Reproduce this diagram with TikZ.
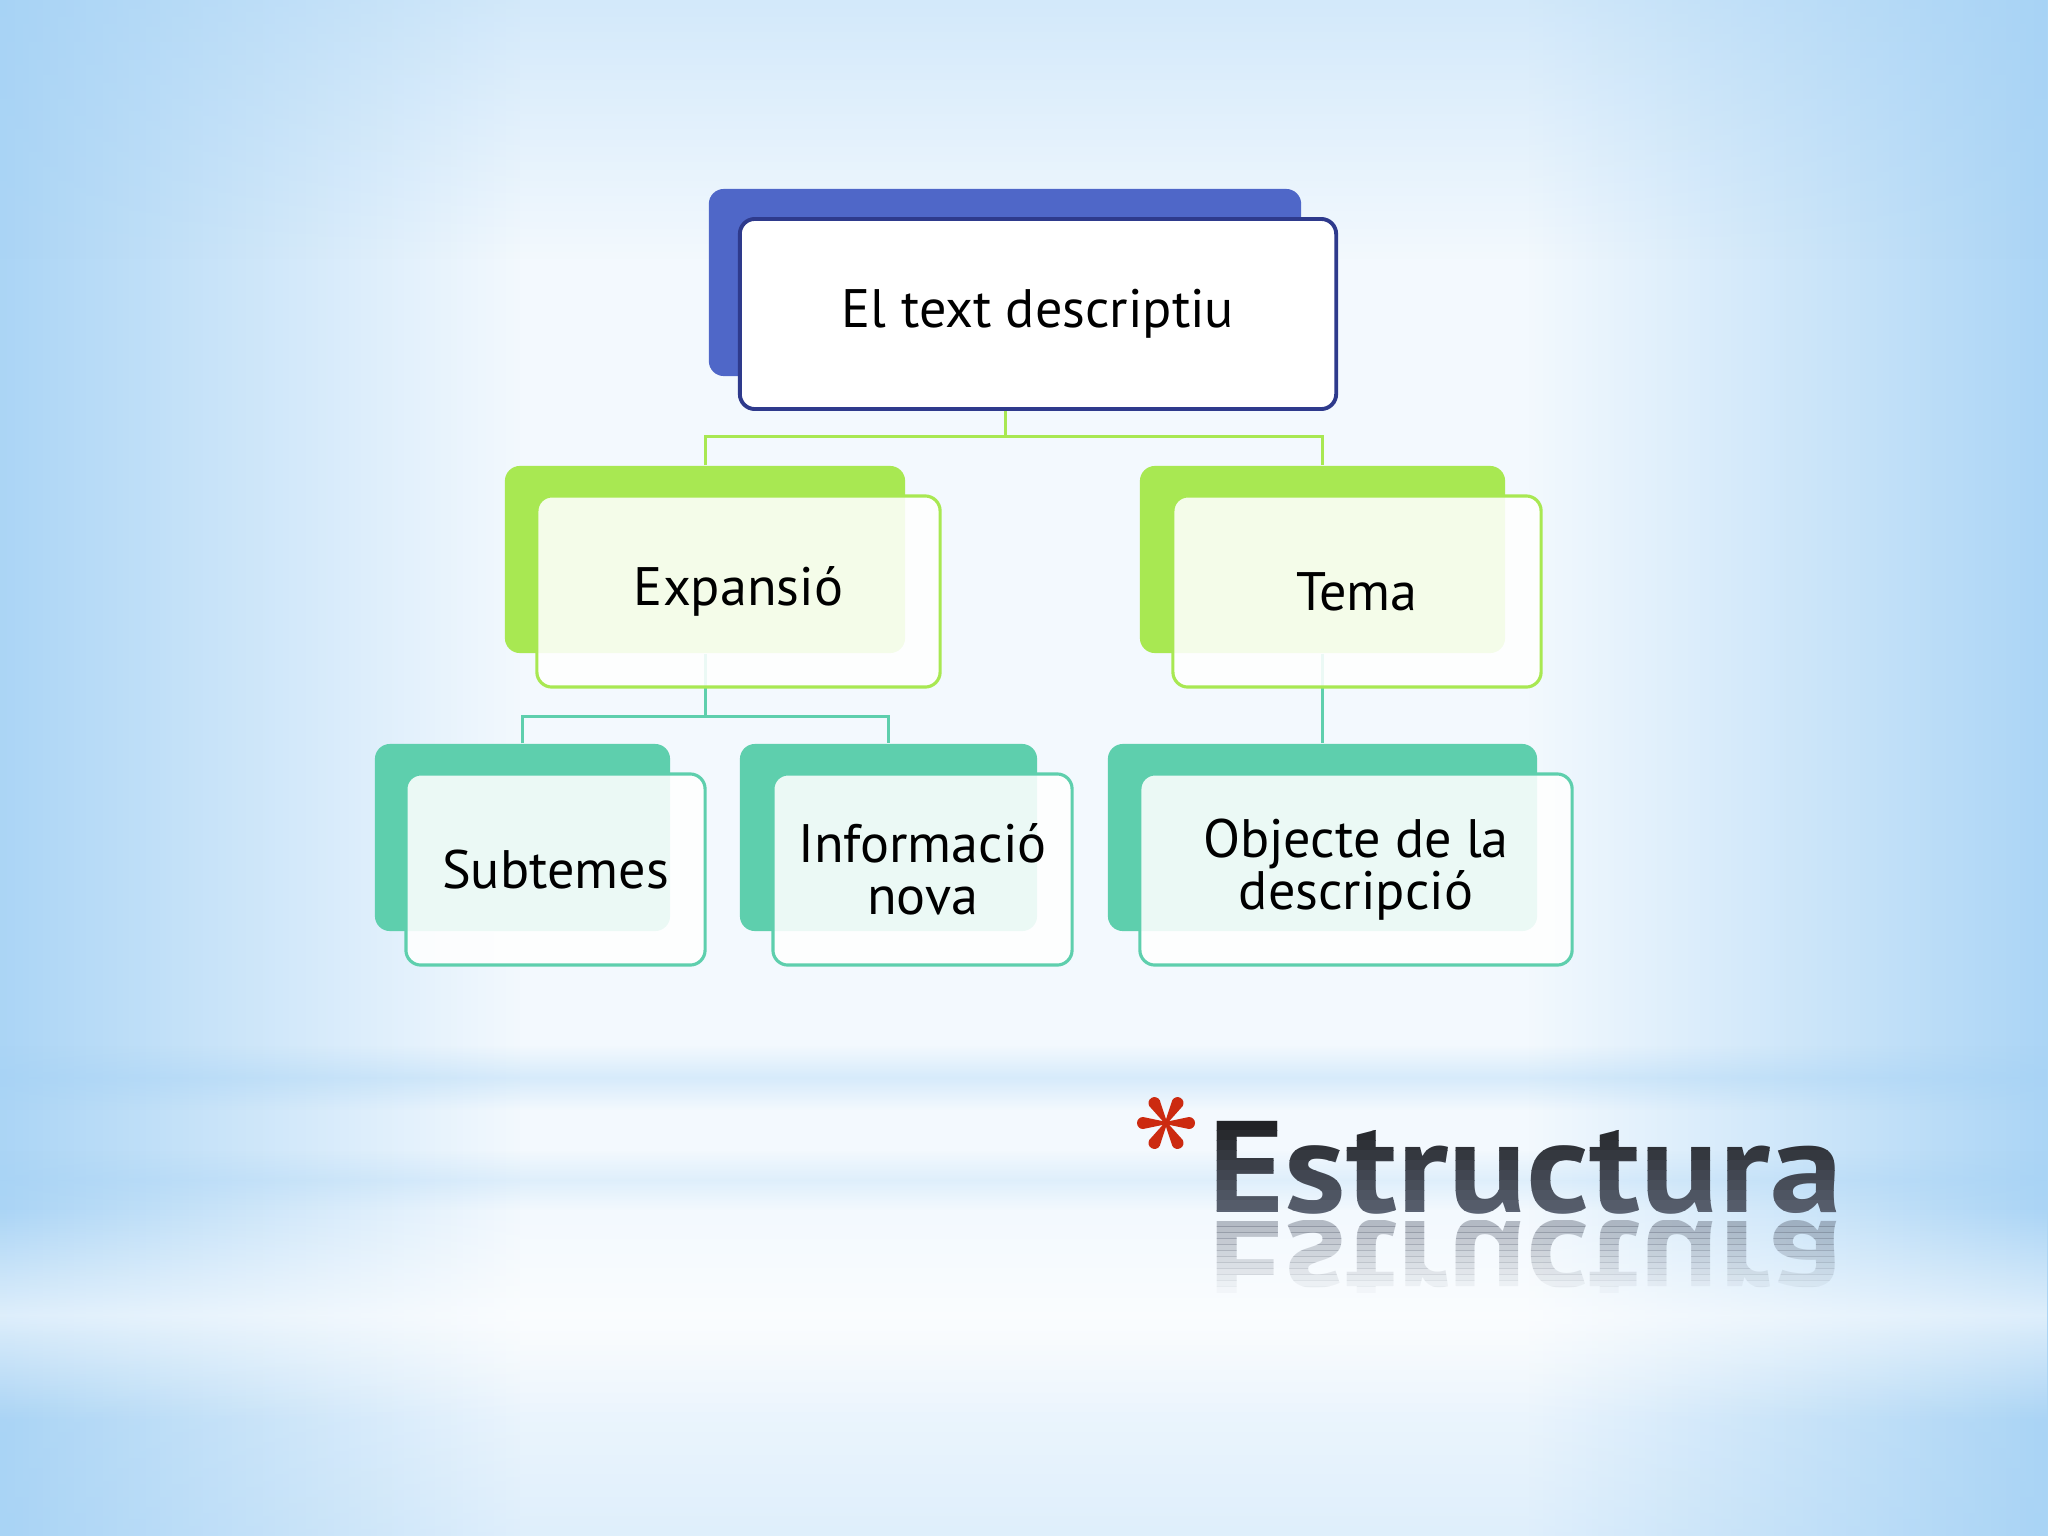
\documentclass[tikz,border=0pt]{standalone}
\usepackage{fontspec}
\setmainfont{PT Sans}
\usetikzlibrary{fadings}

\definecolor{bgout}{HTML}{A3D1F5}
\definecolor{bgin}{HTML}{F3F9FE}
\definecolor{topback}{HTML}{4F67C8}
\definecolor{topline}{HTML}{2E3A8C}
\definecolor{midback}{HTML}{A8E852}
\definecolor{lowback}{HTML}{5ECFAD}
\definecolor{titledark}{HTML}{141414}
\definecolor{titlelight}{HTML}{5C6474}
\definecolor{starred}{HTML}{CC2A10}

\tikzfading[name=softband, top color=transparent!100, bottom color=transparent!100, middle color=transparent!0]
\tikzfading[name=fadeleft, left color=transparent!0, right color=transparent!100]
\tikzfading[name=faderight, left color=transparent!100, right color=transparent!0]
\tikzfading[name=fadetop, top color=transparent!0, bottom color=transparent!100]
\tikzfading[name=fadebottom, top color=transparent!100, bottom color=transparent!0]

\begin{document}
\begin{tikzpicture}[x=0.01cm, y=-0.01cm,
  backbox/.style={rounded corners=0.15cm, minimum height=1.87cm, inner sep=0pt},
  frontbox/.style={rounded corners=0.15cm, minimum height=1.91cm, inner sep=0pt, align=center,
    font=\fontsize{15.4}{14.8}\selectfont, line width=0.9pt, fill=white, text opacity=1},
  greenline/.style={draw=midback, line width=0.85pt},
  tealline/.style={draw=lowback, line width=0.85pt},
  titletext/.style={inner sep=0pt, anchor=base west, xscale=1.12, font=\fontsize{37}{40}\selectfont\bfseries}]

% background
\useasboundingbox (0,0) rectangle (2048,1536);
\fill[bgin] (0,0) rectangle (2048,1536);
\fill[bgout, path fading=fadeleft, opacity=0.9] (0,0) rectangle (520,1536);
\fill[bgout, path fading=faderight, opacity=0.9] (1528,0) rectangle (2048,1536);
\fill[bgout, path fading=fadetop, opacity=0.4] (0,0) rectangle (2048,260);
\fill[bgout, path fading=fadebottom, opacity=0.25] (0,1330) rectangle (2048,1536);
\fill[bgout, path fading=softband, opacity=0.35] (0,1045) rectangle (2048,1110);
\fill[bgout, path fading=softband, opacity=0.25] (0,1150) rectangle (2048,1210);
\fill[white, path fading=softband, opacity=0.6] (0,1210) rectangle (2048,1420);

% connectors
\coordinate (j1) at (1005,436);
\coordinate (j2) at (705,716);

% back boxes
\node[backbox, fill=topback, minimum width=5.92cm] (topb) at (1005,282.5) {};
\node[backbox, fill=midback, minimum width=4.00cm] (expb) at (705,559.5) {};
\node[backbox, fill=midback, minimum width=3.65cm] (temb) at (1322.5,559.5) {};
\node[backbox, fill=lowback, minimum width=2.95cm] (subb) at (522.5,837.5) {};
\node[backbox, fill=lowback, minimum width=2.97cm] (infb) at (888.5,837.5) {};
\node[backbox, fill=lowback, minimum width=4.29cm] (objb) at (1322.5,837.5) {};

\draw[greenline] (topb.south) -- (j1);
\draw[greenline] (expb.north) |- (j1) -| (temb.north);
\draw[tealline] (expb.south) -- (j2);
\draw[tealline] (subb.north) |- (j2) -| (infb.north);
\draw[tealline] (temb.south) -- (objb.north);

% front boxes
\node[frontbox, draw=topline, line width=1.1pt, minimum width=5.96cm, minimum height=1.90cm] (topf) at (1038,314) {El text descriptiu};
\node[frontbox, draw=midback, fill opacity=0.88, minimum width=4.03cm] (expf) at (738.5,591.5) {Expansió};
\node[frontbox, draw=midback, fill opacity=0.88, minimum width=3.68cm] (temf) at (1357,591.5) {Tema};
\node[frontbox, draw=lowback, fill opacity=0.88, minimum width=2.99cm] (subf) at (555.5,869.5) {Subtemes};
\node[frontbox, draw=lowback, fill opacity=0.88, minimum width=2.99cm] (inff) at (922.5,869.5) {Informació\\nova};
\node[frontbox, draw=lowback, fill opacity=0.88, minimum width=4.32cm] (objf) at (1356,869.5) {Objecte de la\\descripció};

% title
\begin{scope}[shift={(1166,1123)}, x=0.01cm, y=0.01cm]
  \foreach \a in {30,90,150,210,270,330}
    \fill[starred, rotate=\a] (0,0) -- (-1.2,0) -- (-6,23) arc[start angle=180, end angle=0, radius=6] -- (1.2,0) -- cycle;
\end{scope}
\foreach \i in {0,...,11} {
  \pgfmathsetmacro\mix{100-\i*9}
  \begin{scope}
    \clip (1150,1100+\i*10) rectangle (1950,1110+\i*10);
    \node[titletext, text=titledark!\mix!titlelight] (title\i) at (1208,1212) {Estructura};
  \end{scope}
}
\foreach \i in {0,...,11} {
  \begin{scope}
    \clip (1150,1220+\i*6) rectangle (1950,1226+\i*6);
    \node[titletext, text=titlelight, yscale=-1, opacity={0.42-0.035*\i}] (refl\i) at (1208,1221) {Estructura};
  \end{scope}
}
\end{tikzpicture}
\end{document}
